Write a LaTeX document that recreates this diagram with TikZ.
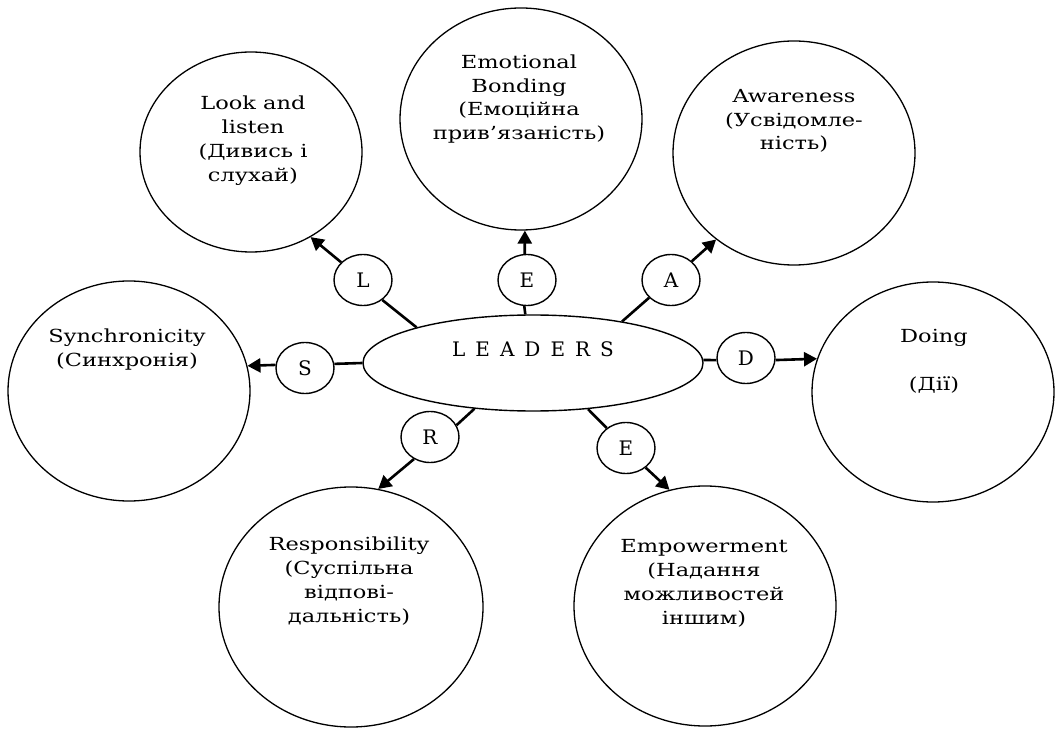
\documentclass[tikz,border=0pt]{standalone}
\usepackage{fontspec}
\setmainfont{DejaVu Serif}[FakeStretch=1.25]
\newfontfamily\capsfont{DejaVu Serif}
\usetikzlibrary{shapes.geometric,arrows.meta}
\newcommand{\gapletter}{\hspace{10pt}}
\begin{document}
\begin{tikzpicture}[x=1pt,y=1pt,
  topic/.style={draw,ellipse,line width=1.3pt,inner sep=0pt},
  letter/.style={draw,ellipse,line width=1.4pt,inner sep=0pt,
    minimum width=58pt,minimum height=51pt,
    font=\capsfont\fontsize{20}{22}\selectfont},
  caption/.style={anchor=north,align=center,inner sep=0pt,
    font=\fontsize{18}{23.8}\selectfont},
  link/.style={line width=2.6pt},
  pointer/.style={line width=2.6pt,-{Triangle[length=13pt,width=14pt]}}]
\useasboundingbox (0,0) rectangle (1059,729);

% central ellipse
\node[draw,ellipse,line width=1.4pt,inner sep=0pt,
  minimum width=340pt,minimum height=96pt,
  text height=14pt,text depth=26.6pt,
  font=\capsfont\fontsize{20}{22}\selectfont] (leaders) at (533,366)
  {L\gapletter E\gapletter A\gapletter D\gapletter E\gapletter R\gapletter S};

% letter circles
\node[letter] (cL)  at (363,449) {L};
\node[letter] (cE1) at (527,449) {E};
\node[letter] (cA)  at (671,449) {A};
\node[letter] (cS)  at (305,361) {S};
\node[letter] (cD)  at (746,371) {D};
\node[letter] (cR)  at (430,292) {R};
\node[letter] (cE2) at (626,281) {E};

% outer topics
\node[topic,minimum width=222pt,minimum height=200pt] (look)  at (251,577) {};
\node[topic,minimum width=242pt,minimum height=222pt] (bond)  at (521,610) {};
\node[topic,minimum width=242pt,minimum height=224pt] (aware) at (794,576) {};
\node[topic,minimum width=242pt,minimum height=220pt] (sync)  at (129,338) {};
\node[topic,minimum width=242pt,minimum height=220pt] (doing) at (933,337) {};
\node[topic,minimum width=264pt,minimum height=240pt] (resp)  at (351,122) {};
\node[topic,minimum width=262pt,minimum height=240pt] (empow) at (705,123) {};

% topic texts
\node[caption] (tLook)  at (253,633)   {Look and\\listen\\(Дивись і\\слухай)};
\node[caption] (tBond)  at (519,674.5) {Emotional\\Bonding\\(Емоційна\\прив’язаність)};
\node[caption] (tAware) at (794,640)   {Awareness\\(Усвідомле-\\ність)};
\node[caption] (tSync)  at (127,400)   {Synchronicity\\(Синхронія)};
\node[caption] (tDoing) at (934,399.5) {Doing\\[23.8pt](Дії)};
\node[caption] (tResp)  at (349,192)   {Responsibility\\(Суспільна\\відпові-\\дальність)};
\node[caption] (tEmp)   at (704,189.5) {Empowerment\\(Надання\\можливостей\\іншим)};

% spokes: centre -> letter -> topic
\draw[link]    (leaders.163) -- (cL.-46);
\draw[pointer] (cL.141)      -- (look.-55);
\draw[link]    (leaders.99)  -- (cE1.-96);
\draw[pointer] (cE1.95)      -- (bond.-88);
\draw[link]    (leaders.25)  -- (cA.219);
\draw[pointer] (cA.42)       -- (aware.228);
\draw[link]    (leaders.180) -- (cS.8);
\draw[pointer] (cS.174)      -- (sync.12);
\draw[link]    (leaders.1)   -- (cD.184);
\draw[pointer] (cD.-4)       -- (doing.164);
\draw[link]    (leaders.218) -- (cR.24);
\draw[pointer] (cR.234)      -- (resp.77);
\draw[link]    (leaders.-40) -- (cE2.134);
\draw[pointer] (cE2.-45)     -- (empow.107);
\end{tikzpicture}
\end{document}
